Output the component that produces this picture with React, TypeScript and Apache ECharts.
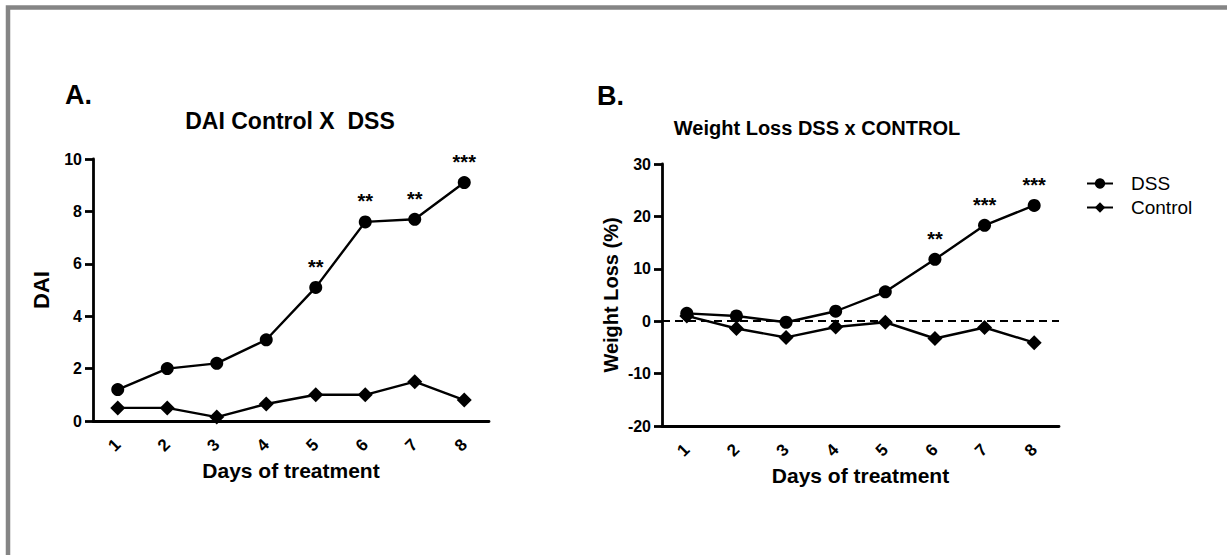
import React, { useEffect, useRef } from "react";
import * as echarts from "echarts";

const days = ["1", "2", "3", "4", "5", "6", "7", "8"];
const daiDSS = [1.2, 2.0, 2.2, 3.1, 5.1, 7.6, 7.7, 9.1];
const daiControl = [0.5, 0.5, 0.15, 0.65, 1.0, 1.0, 1.5, 0.8];
const daiStars = ["", "", "", "", "**", "**", "**", "***"];
const wlDSS = [1.5, 1.0, -0.2, 1.9, 5.6, 11.8, 18.3, 22.1];
const wlControl = [1.0, -1.4, -3.1, -1.1, -0.2, -3.3, -1.2, -4.1];
const wlStars = ["", "", "", "", "", "**", "***", "***"];

const FONT = "'Liberation Sans', Arial, sans-serif";

export default function App() {
  const ref = useRef<HTMLDivElement>(null);
  useEffect(() => {
    document.body.style.margin = "0";
    if (!ref.current) return;
    const chart = echarts.init(ref.current, undefined, { renderer: "svg" });

    const xAxisBase = (gridIndex: number) => ({
      type: "category",
      gridIndex,
      data: days,
      boundaryGap: true,
      name: "Days of treatment",
      nameLocation: "middle",
      nameGap: 39,
      nameTextStyle: { fontFamily: FONT, fontWeight: "bold", fontSize: 21, color: "#000" },
      axisLine: { onZero: false, lineStyle: { color: "#000", width: 2.8 } },
      axisTick: { alignWithLabel: true, length: 7, lineStyle: { color: "#000", width: 2.8 } },
      axisLabel: { rotate: 45, margin: 21, fontFamily: FONT, fontWeight: "bold", fontSize: 17, color: "#000" },
      splitLine: { show: false },
    });

    const yAxisBase = (gridIndex: number, name: string, nameSize: number, min: number, max: number, interval: number) => ({
      type: "value",
      gridIndex,
      min,
      max,
      interval,
      name,
      nameLocation: "middle",
      nameGap: 41,
      nameTextStyle: { fontFamily: FONT, fontWeight: "bold", fontSize: nameSize, color: "#000" },
      axisLine: { show: true, lineStyle: { color: "#000", width: 2.8 } },
      axisTick: { show: true, length: 8, lineStyle: { color: "#000", width: 2.8 } },
      axisLabel: { margin: 11, fontFamily: FONT, fontWeight: "bold", fontSize: 16, color: "#000" },
      splitLine: { show: false },
    });

    const lineSeries = (
      name: string,
      data: number[],
      axisIndex: number,
      symbol: string,
      symbolSize: number,
      stars?: string[]
    ) => ({
      name,
      type: "line",
      xAxisIndex: axisIndex,
      yAxisIndex: axisIndex,
      data,
      symbol,
      symbolSize,
      showSymbol: true,
      itemStyle: { color: "#000" },
      lineStyle: { color: "#000", width: 2.4 },
      label: stars
        ? {
            show: true,
            position: "top",
            distance: 4,
            formatter: (p: any) => stars[p.dataIndex],
            fontFamily: FONT,
            fontWeight: "bold",
            fontSize: 20,
            color: "#000",
          }
        : { show: false },
      z: 3,
    });

    const wlDssSeries: any = lineSeries("DSS", wlDSS, 1, "circle", 13, wlStars);
    wlDssSeries.markLine = {
      silent: true,
      symbol: "none",
      label: { show: false },
      lineStyle: { color: "#000", width: 2, type: [8, 5] },
      data: [{ yAxis: 0 }],
      z: 1,
    };

    chart.setOption({
      animation: false,
      backgroundColor: "#fff",
      grid: [
        { left: 93, top: 159, width: 396, height: 262 },
        { left: 662, top: 164, width: 397, height: 262 },
      ],
      xAxis: [xAxisBase(0), xAxisBase(1)],
      yAxis: [
        yAxisBase(0, "DAI", 22, 0, 10, 2),
        yAxisBase(1, "Weight Loss (%)", 20, -20, 30, 10),
      ],
      legend: {
        orient: "vertical",
        left: 1081,
        top: 169,
        itemWidth: 26,
        itemHeight: 13,
        itemGap: 5,
        data: ["DSS", "Control"],
        textStyle: { fontFamily: FONT, fontSize: 19, color: "#000", padding: [0, 0, 0, 13] },
      },
      graphic: [
        {
          type: "rect",
          shape: { x: 8, y: 7.5, width: 1400, height: 700 },
          style: { fill: "none", stroke: "#858585", lineWidth: 4.5 },
          silent: true,
        },
        {
          type: "text",
          x: 65,
          y: 95,
          style: { text: "A.", font: `bold 27px ${FONT}`, fill: "#000", align: "left", verticalAlign: "middle" },
        },
        {
          type: "text",
          x: 290,
          y: 121,
          style: { text: "DAI Control X  DSS", font: `bold 23px ${FONT}`, fill: "#000", align: "center", verticalAlign: "middle" },
        },
        {
          type: "text",
          x: 597,
          y: 96,
          style: { text: "B.", font: `bold 27px ${FONT}`, fill: "#000", align: "left", verticalAlign: "middle" },
        },
        {
          type: "text",
          x: 817,
          y: 128,
          style: { text: "Weight Loss DSS x CONTROL", font: `bold 20px ${FONT}`, fill: "#000", align: "center", verticalAlign: "middle" },
        },
      ],
      series: [
        lineSeries("DSS", daiDSS, 0, "circle", 13, daiStars),
        lineSeries("Control", daiControl, 0, "diamond", 15),
        wlDssSeries,
        lineSeries("Control", wlControl, 1, "diamond", 15),
      ],
    });
    return () => chart.dispose();
  }, []);
  return <div ref={ref} style={{ width: 1227, height: 555 }} />;
}
